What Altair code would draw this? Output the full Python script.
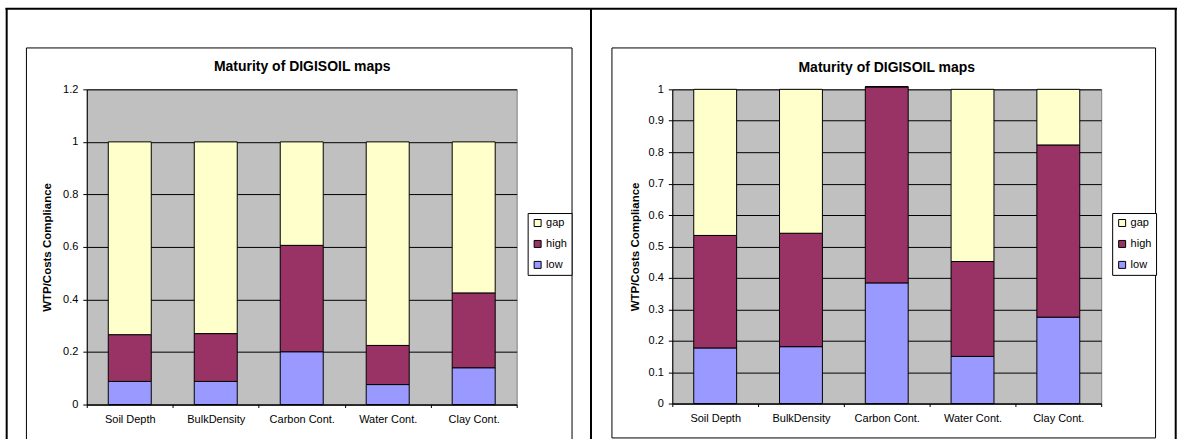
import altair as alt
import pandas as pd

categories = ["Soil Depth", "BulkDensity", "Carbon Cont.", "Water Cont.", "Clay Cont."]
series = ["low", "high", "gap"]
legend_order = ["gap", "high", "low"]
colors = ["#FFFFCC", "#993366", "#9999FF"]

# left chart (segment sizes)
left_low = [0.088, 0.088, 0.201, 0.076, 0.140]
left_high = [0.178, 0.182, 0.405, 0.149, 0.285]
left_gap = [0.734, 0.730, 0.394, 0.775, 0.575]

# right chart (segment sizes)
right_low = [0.177, 0.181, 0.384, 0.150, 0.275]
right_high = [0.358, 0.361, 0.624, 0.302, 0.548]
right_gap = [0.465, 0.458, 0.0, 0.548, 0.177]

left_ticks = [0, 0.2, 0.4, 0.6, 0.8, 1, 1.2]
right_ticks = [0, 0.1, 0.2, 0.3, 0.4, 0.5, 0.6, 0.7, 0.8, 0.9, 1]

title_text = "Maturity of DIGISOIL maps"
y_title = "WTP/Costs Compliance"
FONT = "Liberation Sans"


def make_df(low, high, gap):
    rows = []
    for vals, name in zip([low, high, gap], series):
        for c, v in zip(categories, vals):
            rows.append({"cat": c, "series": name, "value": v, "k": series.index(name)})
    return pd.DataFrame(rows)


def one():
    return alt.Data(values=[{"a": 1}])


def line(x, x2, y, y2, w):
    return alt.Chart(one()).mark_rule(color="black", strokeWidth=w).encode(
        x=alt.value(x), x2=alt.value(x2), y=alt.value(y), y2=alt.value(y2)
    )


def title_mark(cx, cy):
    return alt.Chart(one()).mark_text(
        font=FONT, fontSize=14, fontWeight="bold", color="black",
        align="center", baseline="middle",
    ).encode(x=alt.value(cx), y=alt.value(cy), text=alt.value(title_text))


def bars(df, domain, ticks, title_x, lx, ly):
    return alt.Chart(df).mark_bar(
        width=alt.RelativeBandSize(0.5), stroke="black", strokeWidth=1
    ).encode(
        x=alt.X(
            "cat:N",
            sort=categories,
            scale=alt.Scale(paddingInner=0, paddingOuter=0),
            axis=alt.Axis(
                title=None, labelAngle=0, tickBand="extent", tickSize=3,
                labelPadding=6, labelFontSize=11, labelFont=FONT, labelColor="black",
                domainColor="black", tickColor="black", grid=False,
            ),
        ),
        y=alt.Y(
            "value:Q",
            stack="zero",
            scale=alt.Scale(domain=domain, nice=False, zero=True),
            axis=alt.Axis(
                title=y_title, values=ticks, format="~g", tickSize=4, labelPadding=5,
                labelFontSize=11, labelFont=FONT, labelColor="black",
                domainColor="black", tickColor="black", gridColor="black", gridWidth=1,
                titleFont=FONT, titleFontSize=11.5, titleFontWeight="bold",
                titleColor="black", titleX=title_x, titleBaseline="middle",
            ),
        ),
        color=alt.Color(
            "series:N",
            scale=alt.Scale(domain=legend_order, range=colors),
            legend=alt.Legend(
                title=None, orient="none", legendX=lx, legendY=ly,
                strokeColor="black", fillColor="white", padding=4.5,
                rowPadding=9, labelOffset=3, labelFontSize=11, labelFont=FONT,
                labelColor="black", symbolType="square", symbolSize=49,
                symbolStrokeColor="black", symbolStrokeWidth=1, cornerRadius=0,
            ),
        ),
        order=alt.Order("k:Q", sort="ascending"),
    )


bg = alt.Chart(one()).mark_rect(
    fill="white", fillOpacity=0, strokeWidth=0
).encode(x=alt.value(-86), x2=alt.value(1093), y=alt.value(-88), y2=alt.value(351))

frames = [
    # table borders
    line(-81.5, 1093, -80.7, -80.7, 2),
    line(-80.3, -80.3, -81.5, 352, 2),
    line(505.5, 505.5, -81.5, 352, 2),
    line(1091.7, 1091.7, -81.5, 352, 2),
    # left chart-area box
    line(-60.5, 486.5, -41.5, -41.5, 1),
    line(-60.5, -60.5, -41.5, 352, 1),
    line(486.5, 486.5, -41.5, 352, 1),
    # right chart-area box
    line(526.5, 1071.5, -41.5, -41.5, 1),
    line(526.5, 526.5, -41.5, 349.5, 1),
    line(1071.5, 1071.5, -41.5, 349.5, 1),
    line(526.5, 1071.5, 349.5, 349.5, 1),
]

left = alt.layer(
    bg, *frames,
    title_mark(216, -22),
    bars(make_df(left_low, left_high, left_gap), [0, 1.2], left_ticks, -39, 442, 124),
).properties(width=431, height=316)

right = alt.layer(
    title_mark(215, -21),
    bars(make_df(right_low, right_high, right_gap), [0, 1], right_ticks, -37, 441, 124),
).properties(width=430, height=315)

chart = alt.hconcat(left, right, spacing=156, bounds="flush", padding=0).resolve_scale(
    color="independent"
).configure_view(fill="#C0C0C0", stroke="#808080", strokeWidth=1)

chart.save("out.html", embed_options={"renderer": "svg", "actions": False})
